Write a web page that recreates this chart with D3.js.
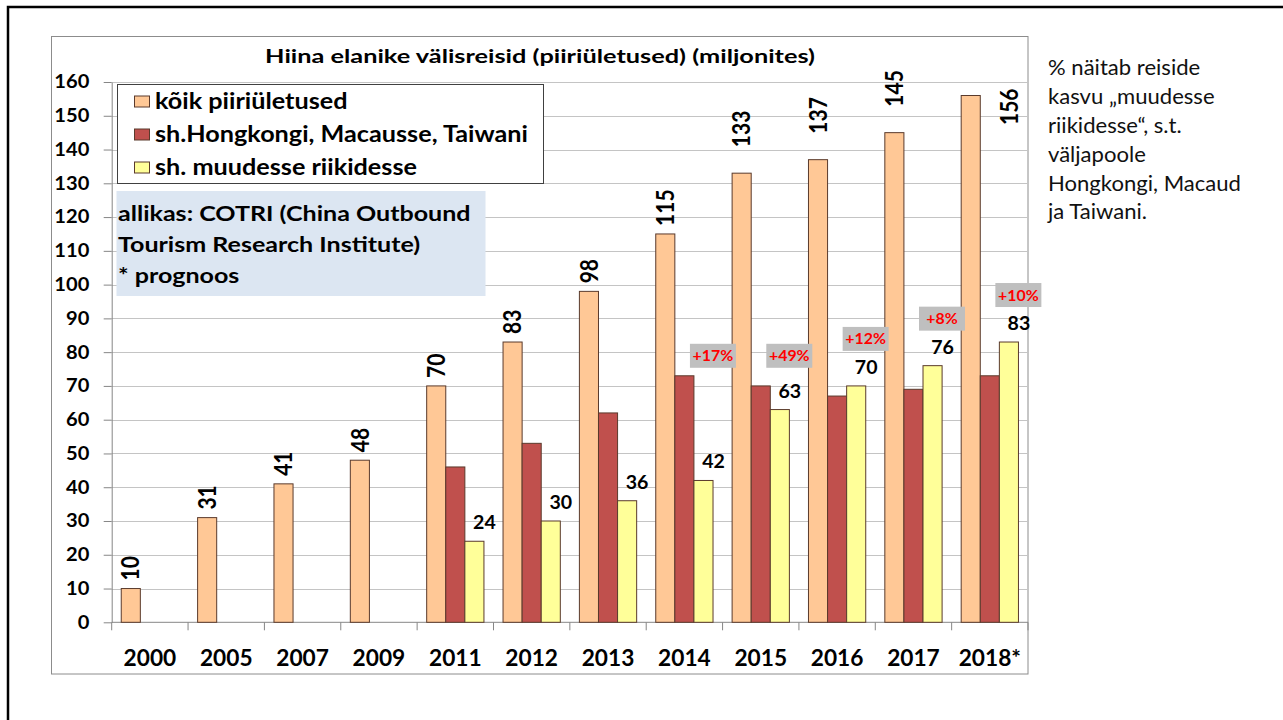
<!DOCTYPE html>
<html>
<head>
<meta charset="utf-8">
<script src="https://cdn.jsdelivr.net/npm/d3@7"></script>
<style>
  body { margin: 0; background: #fff; }
  svg { display: block; font-family: Lato, "Open Sans", sans-serif; }
</style>
</head>
<body>
<svg id="chart" width="1283" height="720"></svg>
<script>
// --- data ---
const years = ['2000', '2005', '2007', '2009', '2011', '2012', '2013', '2014', '2015', '2016', '2017', '2018*'];
const allCrossings = [10, 31, 41, 48, 70, 83, 98, 115, 133, 137, 145, 156];
const hkMacauTaiwan = [null, null, null, null, 46, 53, 62, 73, 70, 67, 69, 73];
const otherCountries = [null, null, null, null, 24, 30, 36, 42, 63, 70, 76, 83];
const growthPct = [null, null, null, null, null, null, null, 17, 49, 12, 8, 10];
const yTicks = [0, 10, 20, 30, 40, 50, 60, 70, 80, 90, 100, 110, 120, 130, 140, 150, 160];

const title = 'Hiina elanike välisreisid (piiriületused) (miljonites)';
const legendLabels = ['kõik piiriületused', 'sh.Hongkongi, Macausse, Taiwani', 'sh. muudesse riikidesse'];
const sourceLines = ['allikas: COTRI (China Outbound', 'Tourism Research Institute)', '* prognoos'];
const noteLines = ['% näitab reiside', 'kasvu „muudesse', 'riikidesse“, s.t.', 'väljapoole', 'Hongkongi, Macaud', 'ja Taiwani.'];

const seriesKeys = ['all', 'hmt', 'other'];
const seriesColor = { all: '#FFC896', hmt: '#C0504D', other: '#FFFF99' };

const svg = d3.select('#chart');

// The slide picture is wider than the font: stretch a text group horizontally
// so that one sample string gets the width it has on the slide.
const stretchTo = (sel, pos, sample, target) => {
  const node = sel.nodes().find(n => n.textContent === sample);
  const sx = target / node.getComputedTextLength();
  sel.attr('transform', (d, i) => {
    const [px, py] = pos(d, i);
    return `translate(${px},${py}) scale(${sx},1)`;
  });
  return sx;
};

// slide frame (only left + top edges are visible)
svg.append('path')
  .attr('d', 'M8,720 V7 H1283')
  .attr('fill', 'none')
  .attr('stroke', '#000')
  .attr('stroke-width', 2.5);

// chart area
const frame = { left: 51.5, top: 36.5, right: 1028, bottom: 674 };
svg.append('rect')
  .attr('x', frame.left).attr('y', frame.top)
  .attr('width', frame.right - frame.left).attr('height', frame.bottom - frame.top)
  .attr('fill', '#fff').attr('stroke', '#8c8c8c');

const plot = { left: 111.7, right: 1028, top: 82, bottom: 622.3 };

const x = d3.scaleBand().domain(years).range([plot.left, plot.right]);
const bw = x.bandwidth();
const xs = d3.scaleBand().domain(seriesKeys).range([bw / 8, bw * 7 / 8]);
const y = d3.scaleLinear().domain([0, 160]).range([plot.bottom, plot.top]);

// gridlines
svg.append('g')
  .selectAll('line')
  .data(yTicks.slice(1))
  .join('line')
  .attr('x1', plot.left).attr('x2', plot.right)
  .attr('y1', d => Math.round(y(d)) + 0.5).attr('y2', d => Math.round(y(d)) + 0.5)
  .attr('stroke', '#c4c4c4');

// y axis
const yAxis = svg.append('g')
  .attr('transform', `translate(${plot.left},0)`)
  .call(d3.axisLeft(y).tickValues(yTicks).tickSize(8).tickPadding(12).tickSizeOuter(0))
  .call(ax => ax.select('.domain').attr('stroke', '#868686'))
  .call(ax => ax.selectAll('line').attr('stroke', '#868686'));
const yLabels = yAxis.selectAll('text')
  .attr('fill', '#000')
  .attr('x', null)
  .style('font-size', '18.5px')
  .style('font-weight', 'bold')
  .style('font-family', 'Lato, sans-serif');
stretchTo(yLabels, () => [-22.4, 0], '160', 35);

// x axis: line, ticks at category boundaries, labels centred
const xAxis = svg.append('g');
xAxis.append('line')
  .attr('x1', plot.left).attr('x2', plot.right)
  .attr('y1', plot.bottom).attr('y2', plot.bottom)
  .attr('stroke', '#868686');
xAxis.selectAll('.tick-mark')
  .data(years.concat(['end']))
  .join('line')
  .attr('class', 'tick-mark')
  .attr('x1', d => d === 'end' ? plot.right : x(d))
  .attr('x2', d => d === 'end' ? plot.right : x(d))
  .attr('y1', plot.bottom).attr('y2', plot.bottom + 8)
  .attr('stroke', '#868686');
const xLabels = xAxis.selectAll('.xlabel')
  .data(years)
  .join('text')
  .attr('class', 'xlabel')
  .attr('text-anchor', 'middle')
  .style('font-size', '22px')
  .style('font-weight', 'bold')
  .text(d => d);
stretchTo(xLabels, d => [x(d) + bw / 2, 666], '2000', 52.7);

// bars
const rows = years.map((yr, i) => ({
  year: yr,
  all: allCrossings[i],
  hmt: hkMacauTaiwan[i],
  other: otherCountries[i],
  growth: growthPct[i]
}));

const barData = [];
rows.forEach(r => seriesKeys.forEach(k => {
  if (r[k] != null) barData.push({ year: r.year, key: k, value: r[k] });
}));

svg.append('g')
  .selectAll('rect')
  .data(barData)
  .join('rect')
  .attr('x', d => x(d.year) + xs(d.key))
  .attr('y', d => y(d.value))
  .attr('width', xs.bandwidth())
  .attr('height', d => y(0) - y(d.value))
  .attr('fill', d => seriesColor[d.key])
  .attr('stroke', '#5a3a2c')
  .attr('stroke-width', 1);

// total labels, rotated
svg.append('g')
  .selectAll('text')
  .data(rows)
  .join('text')
  .attr('transform', d => {
    const cx = x(d.year) + xs('all') + xs.bandwidth() / 2;
    let top = y(d.all) - 8;
    let shift = 0;
    if (top - 40 < plot.top) {
      // no room above the tallest bar: tuck the label inside the plot, to the right
      shift = 2 * xs.bandwidth();
      top = plot.top + 43;
    } else if (d.all > 130) {
      // the tall ones were nudged up a little on the slide
      top -= 18;
    }
    return `translate(${cx + shift},${top}) scale(1.15,1) rotate(-90)`;
  })
  .attr('dy', '0.36em')
  .style('font-size', '21px')
  .style('font-weight', 'bold')
  .text(d => d.all);

// values of "other countries" bars
const otherLabels = svg.append('g')
  .selectAll('text')
  .data(rows.filter(r => r.other != null))
  .join('text')
  .attr('text-anchor', 'middle')
  .style('font-size', '19px')
  .style('font-weight', 'bold')
  .text(d => d.other);
stretchTo(otherLabels, d => [x(d.year) + xs('other') + xs.bandwidth() / 2 + 10, y(d.other) - 12], '63', 22.7);

// growth boxes
const redTop = y(d3.max(hkMacauTaiwan));
const growth = svg.append('g')
  .selectAll('g')
  .data(rows.filter(r => r.growth != null))
  .join('g')
  .attr('transform', d => {
    const bx = x(d.year) + xs('other') - 4;
    const bottom = Math.min(y(d.other) - 35, redTop - 8);
    return `translate(${bx},${bottom - 24})`;
  });
growth.append('rect')
  .attr('width', 46).attr('height', 24)
  .attr('fill', '#bfbfbf');
const growthText = growth.append('text')
  .attr('text-anchor', 'middle')
  .attr('fill', '#ff0000')
  .style('font-size', '15px')
  .style('font-weight', 'bold')
  .text(d => '+' + d.growth + '%');
stretchTo(growthText, () => [23, 17.5], '+17%', 40.7);

// title
const titleText = svg.append('text')
  .attr('text-anchor', 'middle')
  .style('font-size', '18px')
  .style('font-weight', 'bold')
  .text(title);
stretchTo(titleText, () => [540, 63], title, 550);

// legend
const legend = svg.append('g');
legend.append('rect')
  .attr('x', 117.5).attr('y', 84.5).attr('width', 426).attr('height', 99)
  .attr('fill', '#fff').attr('stroke', '#404040');
const legendRows = legend.selectAll('g')
  .data(legendLabels)
  .join('g')
  .attr('transform', (d, i) => `translate(134,${101.5 + i * 33})`);
legendRows.append('rect')
  .attr('x', 0.5).attr('y', -5.5).attr('width', 15).attr('height', 11)
  .attr('fill', (d, i) => seriesColor[seriesKeys[i]])
  .attr('stroke', '#5a3a2c');
const legendText = legendRows.append('text')
  .attr('dy', '0.36em')
  .style('font-size', '22px')
  .style('font-weight', 'bold')
  .text(d => d);
stretchTo(legendText, () => [21, 0], legendLabels[1], 373);

// source box
const src = svg.append('g');
src.append('rect')
  .attr('x', 116.5).attr('y', 191).attr('width', 369).attr('height', 105)
  .attr('fill', '#dce6f2');
const srcText = src.selectAll('text')
  .data(sourceLines)
  .join('text')
  .attr('dy', '0.36em')
  .style('font-size', '21px')
  .style('font-weight', 'bold')
  .text(d => d);
stretchTo(srcText, (d, i) => [118, 213 + i * 31], sourceLines[0], 352.7);

// side note
const noteText = svg.append('g')
  .selectAll('text')
  .data(noteLines)
  .join('text')
  .attr('dy', '0.36em')
  .style('font-size', '20.5px')
  .style('fill', '#111')
  .text(d => d);
stretchTo(noteText, (d, i) => [1048, 68 + i * 28.8], 'Hongkongi, Macaud', 193);
</script>
</body>
</html>
